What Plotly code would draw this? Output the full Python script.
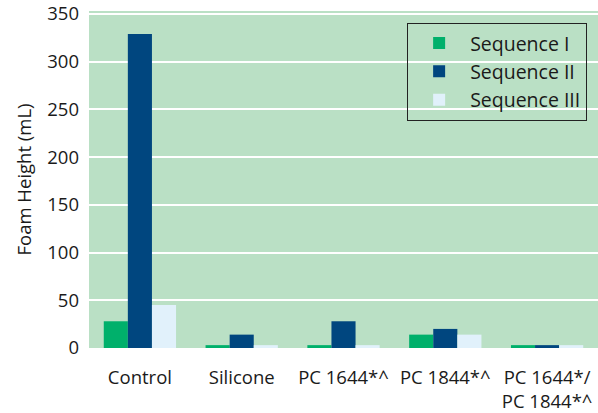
import plotly.graph_objects as go

categories = ["Control", "Silicone", "PC 1644*^", "PC 1844*^", "PC 1644*/<br>PC 1844*^"]
seq1 = [28, 3, 3, 14, 3]
seq2 = [329, 14, 28, 20, 3]
seq3 = [45, 3, 3, 14, 3]
series_names = ["Sequence I", "Sequence II", "Sequence III"]
colors = ["#00b06b", "#00467f", "#e1f1fb"]

fig = go.Figure()
for name, vals, c in zip(series_names, [seq1, seq2, seq3], colors):
    fig.add_trace(go.Bar(x=categories, y=vals, name=name, marker=dict(color=c, line=dict(width=0))))

fig.update_layout(
    width=598, height=413,
    margin=dict(l=89, r=0, t=10, b=62),
    paper_bgcolor="white",
    plot_bgcolor="#bae0c5",
    barmode="group",
    bargap=0.29,
    bargroupgap=0,
    font=dict(family="Open Sans, Noto Sans, sans-serif", size=18, color="#1a1a1a"),
    legend=dict(x=0.625, y=0.965, xanchor="left", yanchor="top",
                bgcolor="rgba(0,0,0,0)", bordercolor="#222222", borderwidth=1,
                font=dict(size=19.5), itemwidth=52),
    xaxis=dict(showgrid=False, ticks="", tickfont=dict(size=18.5), ticklabelstandoff=16),
    yaxis=dict(range=[0, 353], tickvals=[0, 50, 100, 150, 200, 250, 300, 350],
               showgrid=True, gridcolor="white", gridwidth=2, zeroline=False,
               ticks="", tickfont=dict(size=18.5), ticklabelstandoff=9,
               ticklabeloverflow="allow",
               title=dict(text="Foam Height (mL)", font=dict(size=18.5), standoff=10)),
)
fig.write_html("out.html", config={"displayModeBar": False},
               post_script="document.body.style.margin='0';")
